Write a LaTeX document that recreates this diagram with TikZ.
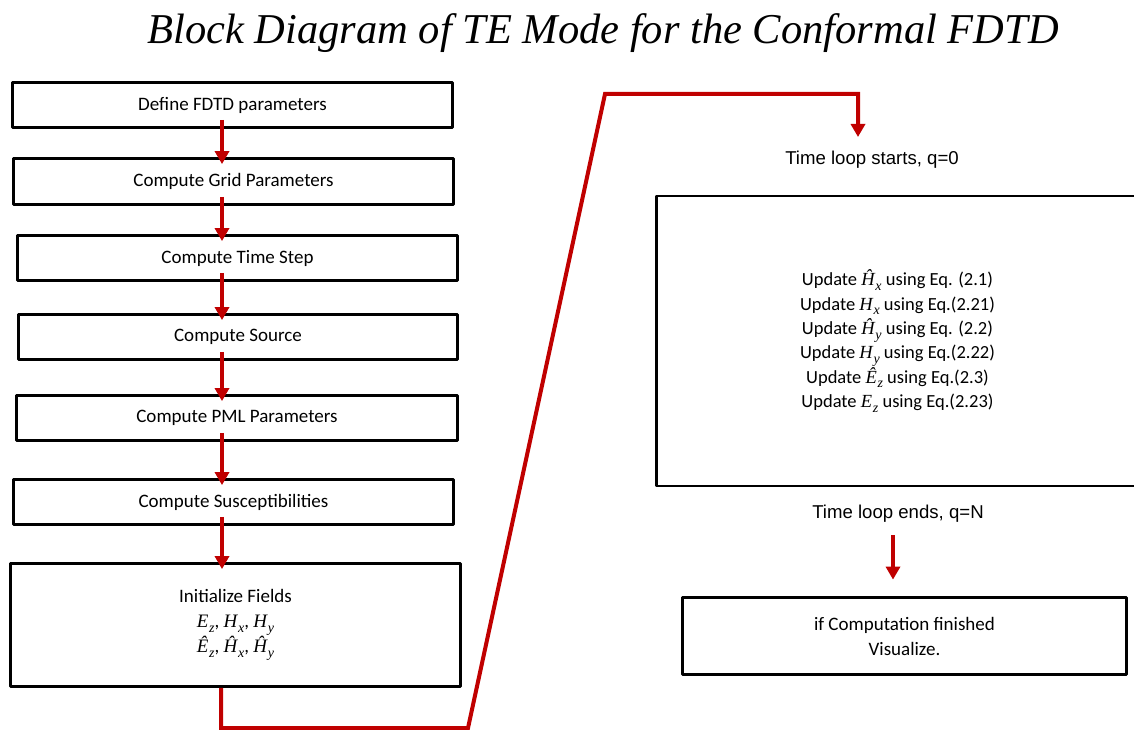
\documentclass[tikz,border=0pt]{standalone}
\usepackage{fontspec}
\newfontfamily\calibri{Carlito}
\newfontfamily\arial{Liberation Sans}
\newfontfamily\thoibao{Liberation Serif}
\usetikzlibrary{arrows.meta}
\definecolor{dothem}{HTML}{C00000}
%% chu nghieng co chi so duoi
\newcommand\bien[2]{{\thoibao\itshape #1}\kern0.04em\raisebox{-0.25em}{\fontsize{14}{14}\selectfont\thoibao\itshape #2}}
\begin{document}
\begin{tikzpicture}[x=1pt,y=-1pt,line join=round]
	%%%%Kiểu
	\tikzset{hop/.style={draw,line width=2.8pt,inner sep=0pt,align=center,
			font=\calibri\fontsize{19}{25}\selectfont},
		muiten/.style={draw=dothem,line width=4pt,-{Triangle[width=14pt,length=13pt]}},
		chu/.style={inner sep=0pt,anchor=base,font=\arial\fontsize{18.6}{22}\selectfont}}
	\useasboundingbox (0,0) rectangle (1134,730);
	%%%%Tiêu đề
	\node[inner sep=0pt,anchor=base,font=\thoibao\itshape\fontsize{42.5}{50}\selectfont] (tieude) at (603,44) {Block Diagram of TE Mode for the Conformal FDTD};
	%%%%Cột bên trái
	\node[hop,minimum width=440pt,minimum height=45pt] (b1) at (232.5,105) {Define FDTD parameters};
	\node[hop,minimum width=440pt,minimum height=46pt] (b2) at (233.5,181.5) {Compute Grid Parameters};
	\node[hop,minimum width=440pt,minimum height=45pt] (b3) at (237.5,258) {Compute Time Step};
	\node[hop,minimum width=439pt,minimum height=45pt] (b4) at (238,337) {Compute Source};
	\node[hop,minimum width=441pt,minimum height=45pt] (b5) at (237,418) {Compute PML Parameters};
	\node[hop,minimum width=440pt,minimum height=45pt] (b6) at (233.5,502) {Compute Susceptibilities};
	\node[hop,minimum width=450pt,minimum height=123pt] (b7) at (235.5,625) {Initialize Fields\\ \bien{E}{z}, \bien{H}{x}, \bien{H}{y}\\ \bien{\^E}{z}, \bien{\^H}{x}, \bien{\^H}{y}};
	%%%%Vòng lặp thời gian
	\node[chu] (batdau) at (872,165) {Time loop starts, q=0};
	\node[hop,minimum width=482pt,minimum height=290pt,font=\calibri\fontsize{18.5}{24.3}\selectfont] (vong) at (897.5,341) {Update \bien{\^H}{x} using Eq. (2.1)\\
		Update \bien{H}{x} using Eq.(2.21)\\
		Update \bien{\^H}{y} using Eq. (2.2)\\
		Update \bien{H}{y} using Eq.(2.22)\\
		Update \bien{\^E}{z} using Eq.(2.3)\\
		Update \bien{E}{z} using Eq.(2.23)};
	\node[chu] (ketthuc) at (898,518) {Time loop ends, q=N};
	\node[hop,minimum width=444pt,minimum height=77pt] (xong) at (904.5,636) {if Computation finished\\ Visualize.};
	%%%%Mũi tên
	\coordinate (truc) at (222,0);
	\foreach \tren/\duoi in {b1/b2,b2/b3,b3/b4,b4/b5,b5/b6,b6/b7}
		\draw[muiten,shorten <=-9pt,shorten >=-7pt] (\tren.south -| truc) -- (\duoi.north -| truc);
	\coordinate (g1) at (221,728);
	\coordinate (g2) at (468,728);
	\coordinate (g3) at (605,94);
	\coordinate (g4) at (858,137);
	\draw[muiten,line join=miter] (b7.south -| g1) |- (g2) -- (g3) -| (g4);
	\coordinate (g5) at (893,0);
	\draw[muiten,shorten <=13pt,shorten >=16.5pt] (ketthuc.south -| g5) -- (xong.north -| g5);
\end{tikzpicture}
\end{document}
